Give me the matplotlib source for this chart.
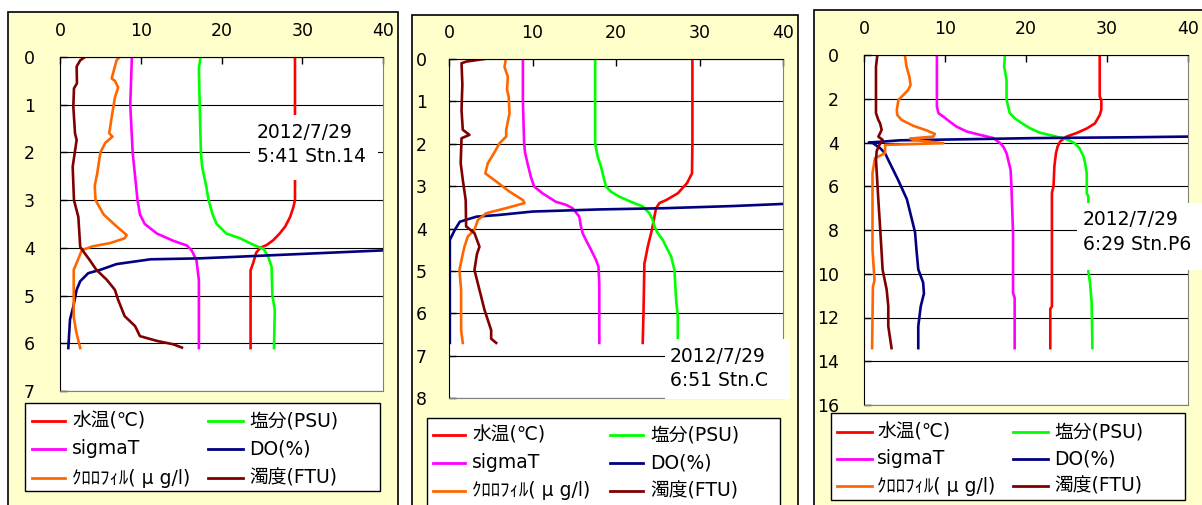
import matplotlib
matplotlib.use('Agg')
import matplotlib.pyplot as plt
from matplotlib.patches import Rectangle
from matplotlib.lines import Line2D

plt.rcParams['font.family'] = ['DejaVu Sans', 'Noto Sans CJK JP']

# 系列名と色（Excelの既定配色に合わせる）
labels = ['水温(℃)', '塩分(PSU)', 'sigmaT', 'DO(%)', 'ｸﾛﾛﾌｨﾙ( μ g/l)', '濁度(FTU)']
colors = ['#FF0000', '#00FF00', '#FF00FF', '#000080', '#FF6600', '#800000']

# ---- Stn.14  2012/7/29 5:41 ----
st14_temp_d = [0, 1.0, 2.0, 2.7, 3.0, 3.15, 3.35, 3.55, 3.7, 3.84, 3.94, 4.0, 4.1, 4.33, 4.47, 5.0, 5.5, 6.1]
st14_temp = [29.1, 29.1, 29.1, 29.1, 29.1, 28.9, 28.5, 27.9, 27.2, 26.4, 25.6, 24.8, 24.3, 23.9, 23.6, 23.6, 23.6, 23.6]
st14_sal_d = [0, 0.25, 1.0, 2.0, 2.3, 2.7, 3.0, 3.3, 3.5, 3.7, 3.8, 3.94, 4.02, 4.19, 4.4, 5.0, 5.3, 6.1]
st14_sal = [17.4, 17.2, 17.3, 17.45, 17.6, 18.1, 18.4, 18.9, 19.4, 20.6, 22.3, 24.0, 25.2, 25.8, 26.2, 26.3, 26.6, 26.5]
st14_sig_d = [0, 1.0, 2.0, 2.5, 3.0, 3.3, 3.5, 3.7, 3.85, 3.95, 4.05, 4.26, 4.68, 6.1]
st14_sig = [8.9, 8.7, 9.0, 9.3, 9.6, 9.9, 10.5, 12.0, 14.0, 15.7, 16.3, 16.9, 17.2, 17.2]
st14_do_d = [4.02, 4.05, 4.19, 4.22, 4.24, 4.34, 4.46, 4.53, 4.7, 4.88, 5.23, 5.5, 6.1]
st14_do = [41.5, 40.4, 21.5, 17.3, 11.2, 7.0, 5.0, 3.5, 2.5, 2.06, 1.65, 1.24, 1.03]
st14_chl_d = [0, 0.07, 0.45, 0.5, 0.64, 0.85, 1.26, 1.6, 1.67, 1.8, 2.0, 2.45, 2.7, 3.0, 3.3, 3.55, 3.73,
              3.8, 3.9, 3.97, 4.05, 4.26, 4.46, 5.0, 5.45, 5.75, 6.1]
st14_chl = [7.4, 7.0, 6.4, 6.8, 7.2, 6.8, 6.4, 6.1, 6.5, 5.6, 5.0, 4.6, 4.3, 4.4, 5.4, 7.0, 8.25,
            8.0, 6.2, 4.0, 2.7, 2.2, 1.7, 1.7, 1.7, 2.0, 2.5]
st14_tur_d = [0, 0.07, 0.2, 0.55, 0.66, 1.04, 1.6, 1.74, 2.3, 3.0, 3.35, 3.7, 3.98, 4.1, 4.26, 4.46,
              4.67, 4.88, 5.09, 5.43, 5.64, 5.85, 5.95, 6.02, 6.09]
st14_tur = [3.1, 2.5, 2.06, 2.1, 1.73, 1.65, 1.86, 2.06, 1.57, 1.73, 2.27, 2.4, 2.5, 3.0, 3.7, 4.5,
            5.8, 6.8, 7.2, 8.0, 9.3, 9.9, 12.0, 14.0, 15.1]

# ---- Stn.C  2012/7/29 6:51 ----
stc_temp_d = [0, 1, 2, 2.7, 2.93, 3.17, 3.33, 3.4, 3.52, 4.03, 4.43, 4.74, 4.82, 5.92, 6.7]
stc_temp = [29.15, 29.15, 29.15, 29.1, 28.5, 27.4, 26.0, 25.2, 24.8, 24.3, 23.8, 23.5, 23.4, 23.3, 23.2]
stc_sal_d = [0, 1, 1.99, 2.3, 2.54, 2.78, 3.01, 3.13, 3.25, 3.37, 3.48, 3.64, 3.8, 3.95, 4.11, 4.27,
             4.43, 4.66, 4.98, 5.68, 6.08, 6.7]
stc_sal = [17.5, 17.5, 17.5, 17.8, 18.2, 18.5, 18.8, 19.4, 20.4, 21.8, 23.2, 24.0, 24.4, 24.6, 25.0, 25.6,
           26.0, 26.6, 27.0, 27.2, 27.4, 27.4]
stc_sig_d = [0, 1, 1.99, 2.2, 2.46, 2.78, 3.01, 3.17, 3.37, 3.44, 3.52, 3.72, 3.95, 4.11, 4.27, 4.5,
             4.74, 4.9, 5.3, 6.7]
stc_sig = [8.85, 8.85, 9.0, 9.1, 9.4, 9.8, 10.2, 11.2, 12.8, 14.0, 14.8, 15.6, 15.8, 16.0, 16.4, 17.0,
           17.6, 17.9, 18.0, 18.0]
stc_do_d = [3.4, 3.42, 3.47, 3.52, 3.55, 3.6, 3.68, 3.72, 3.84, 4.03, 4.27, 6.7]
stc_do = [42, 40, 34, 26, 18, 10, 6.0, 3.3, 1.3, 0.7, 0.1, 0.1]
stc_chl_d = [0, 0.19, 0.42, 0.73, 0.89, 1.28, 1.67, 1.83, 1.99, 2.2, 2.46, 2.7, 2.89, 3.13, 3.33, 3.4,
             3.52, 3.64, 3.8, 4.03, 4.19, 4.43, 4.6, 4.98, 5.45, 6.4, 6.7]
stc_chl = [6.8, 6.65, 7.05, 6.95, 7.15, 7.25, 6.85, 6.85, 6.05, 5.45, 4.65, 4.35, 5.65, 7.25, 8.85, 9.05,
           6.85, 4.45, 3.45, 3.05, 2.25, 1.85, 1.65, 1.25, 1.45, 1.45, 1.65]
stc_tur_d = [0, 0.06, 0.1, 0.6, 1.2, 1.67, 1.79, 1.87, 2.46, 2.85, 3.33, 3.95, 4.11, 4.43, 4.6, 4.98,
             5.45, 5.92, 6.16, 6.4, 6.6, 6.7]
stc_tur = [4.25, 2.1, 1.5, 1.6, 1.5, 1.65, 2.45, 1.5, 1.4, 1.65, 2.0, 2.05, 3.05, 3.65, 3.35, 3.05,
           3.65, 4.25, 4.65, 5.05, 5.05, 5.65]

# ---- Stn.P6  2012/7/29 6:29 ----
stp6_temp_d = [0, 1.9, 2.05, 2.5, 2.75, 3.13, 3.36, 3.56, 3.73, 3.96, 4.19, 4.49, 5.1, 6.0, 6.3, 11.5, 11.6, 13.4]
stp6_temp = [29.1, 29.1, 29.3, 29.3, 29.1, 28.5, 27.5, 26.3, 25.0, 24.2, 23.9, 23.7, 23.5, 23.4, 23.2, 23.2, 23.0, 23.0]
stp6_sal_d = [0, 0.53, 1.14, 2.05, 2.36, 2.66, 2.89, 3.12, 3.35, 3.55, 3.7, 3.85, 4.03, 4.26, 4.64,
              4.95, 5.4, 6.32, 6.47, 9.9, 10.4, 11.3, 13.4]
stp6_sal = [17.4, 17.3, 17.6, 17.6, 17.8, 18.0, 18.6, 19.5, 20.5, 21.7, 23.4, 25.0, 26.0, 26.6, 27.1,
            27.3, 27.5, 27.5, 27.7, 27.7, 27.9, 28.1, 28.2]
stp6_sig_d = [0, 2.36, 2.66, 2.82, 3.05, 3.27, 3.5, 3.65, 3.8, 4.03, 4.19, 4.49, 4.95, 5.25, 6.0, 8.14,
              10.88, 11.1, 13.4]
stp6_sig = [9.0, 9.0, 9.2, 9.8, 10.6, 11.4, 12.7, 14.3, 16.0, 16.8, 17.2, 17.6, 17.9, 18.1, 18.2, 18.4,
            18.4, 18.6, 18.6]
stp6_do_d = [3.7, 3.73, 3.76, 3.8, 3.85, 3.9, 3.96, 4.0, 4.03, 4.26, 4.49, 4.95, 5.7, 6.6, 7.5, 8.1,
             9.0, 9.8, 10.4, 10.9, 11.5, 12.4, 13.4]
stp6_do = [42, 40, 33.2, 20.9, 12.7, 4.4, 2.3, 0.6, 1.1, 2.0, 2.6, 3.2, 4.2, 5.3, 5.9, 6.3,
           6.5, 6.7, 7.3, 7.4, 7.0, 6.7, 6.7]
stp6_chl_d = [0, 0.53, 0.99, 1.37, 1.6, 1.83, 2.05, 2.51, 2.74, 2.97, 3.24, 3.45, 3.61, 3.73, 3.82,
              3.88, 4.03, 4.11, 4.49, 4.72, 4.95, 5.4, 8.9, 10.3, 10.6, 13.4]
stp6_chl = [5.05, 5.25, 5.6, 5.75, 5.45, 4.85, 4.25, 4.05, 4.1, 4.65, 6.1, 7.75, 8.75, 8.55, 5.7,
            6.1, 9.8, 2.6, 2.6, 1.35, 1.25, 1.05, 1.05, 1.3, 1.1, 1.0]
stp6_tur_d = [0, 0.53, 2.66, 2.97, 3.12, 3.42, 3.58, 3.73, 3.88, 4.19, 4.41, 4.79, 6.62, 7.84, 9.06,
              9.82, 10.73, 11.5, 12.4, 13.4]
stp6_tur = [1.65, 1.48, 1.48, 1.77, 1.98, 2.18, 1.98, 1.77, 2.3, 1.77, 1.56, 1.48, 1.77, 1.98, 2.18,
            2.3, 2.8, 3.0, 3.0, 3.4]

W, H = 1202, 505
fig = plt.figure(figsize=(W / 100, H / 100), dpi=100)


def fx(x):
    return x / W


def fy(y):
    return 1 - y / H


def fig_rect(l, t, r, b, **kw):
    # 画素座標（左上原点）で図全体に矩形を置く
    p = Rectangle((fx(l), fy(b)), (r - l) / W, (b - t) / H,
                  transform=fig.transFigure, **kw)
    fig.add_artist(p)
    return p


def draw_station(frame, plot, ymax, ystep, series, note, note_box, legend_box, lpad):
    fig_rect(*frame, facecolor='#FFFFCC', edgecolor='black', lw=1.2, zorder=-1)

    l, t, r, b = plot
    ax = fig.add_axes([fx(l), fy(b), (r - l) / W, (b - t) / H])
    for (d, v), c in zip(series, colors):
        ax.plot(v, d, color=c, lw=1.9, solid_joinstyle='round')
    ax.set_xlim(0, 40)
    ax.set_ylim(ymax, 0)
    ax.set_xticks(range(0, 41, 10))
    ax.set_yticks(range(0, ymax + 1, ystep))
    ax.xaxis.set_ticks_position('top')
    ax.tick_params(axis='x', direction='in', length=5, width=1, pad=12, labelsize=12.5)
    ax.tick_params(axis='y', direction='in', length=5, width=1, pad=lpad, labelsize=12.5)
    ax.grid(axis='y', color='black', lw=0.8)
    for s in ('left', 'top'):
        ax.spines[s].set_color('black')
    for s in ('right', 'bottom'):
        ax.spines[s].set_color('#808080')

    # 観測日時のラベル
    fig_rect(*note_box, facecolor='white', edgecolor='none', zorder=5)
    nx, ny0, ny1, line0, line1 = note
    fig.text(fx(nx), fy(ny0), line0, fontsize=13.5, va='center', zorder=6)
    fig.text(fx(nx), fy(ny1), line1, fontsize=13.5, va='center', zorder=6)

    # 凡例（2列×3行）
    bl, bt, br, bb, rows, cols = legend_box
    fig_rect(bl, bt, br, bb, facecolor='white', edgecolor='black', lw=1, zorder=5)
    for i, (lab, c) in enumerate(zip(labels, colors)):
        ry = rows[i // 2]
        x0, x1, xt = cols[i % 2]
        fig.add_artist(Line2D([fx(x0), fx(x1)], [fy(ry), fy(ry)], color=c, lw=2.0,
                              transform=fig.transFigure, zorder=6))
        fig.text(fx(xt), fy(ry), lab, fontsize=13.5, va='center', zorder=6)


draw_station(
    frame=(8, 12, 398, 530), plot=(60, 57, 383, 391), ymax=7, ystep=1,
    series=[(st14_temp_d, st14_temp), (st14_sal_d, st14_sal), (st14_sig_d, st14_sig),
            (st14_do_d, st14_do), (st14_chl_d, st14_chl), (st14_tur_d, st14_tur)],
    note=(257, 132, 157, '2012/7/29', '5:41 Stn.14'), note_box=(250, 115, 378, 180),
    legend_box=(25, 403, 380, 491, (421, 449, 478), ((32, 65, 72), (208, 243, 249))),
    lpad=18)

draw_station(
    frame=(412, 15, 798, 530), plot=(449, 59, 783, 398), ymax=8, ystep=1,
    series=[(stc_temp_d, stc_temp), (stc_sal_d, stc_sal), (stc_sig_d, stc_sig),
            (stc_do_d, stc_do), (stc_chl_d, stc_chl), (stc_tur_d, stc_tur)],
    note=(670, 356, 381, '2012/7/29', '6:51 Stn.C'), note_box=(665, 339, 790, 399),
    legend_box=(427, 418, 780, 510, (435, 463, 491), ((433, 465, 472), (610, 643, 650))),
    lpad=16)

draw_station(
    frame=(814, 10, 1215, 530), plot=(864, 55, 1188, 405), ymax=16, ystep=2,
    series=[(stp6_temp_d, stp6_temp), (stp6_sal_d, stp6_sal), (stp6_sig_d, stp6_sig),
            (stp6_do_d, stp6_do), (stp6_chl_d, stp6_chl), (stp6_tur_d, stp6_tur)],
    note=(1083, 220, 245, '2012/7/29', '6:29 Stn.P6'), note_box=(1077, 203, 1215, 270),
    legend_box=(831, 413, 1185, 500, (432, 459, 486), ((837, 872, 877), (1013, 1048, 1054))),
    lpad=18)

fig.savefig('out.png', dpi=100)
